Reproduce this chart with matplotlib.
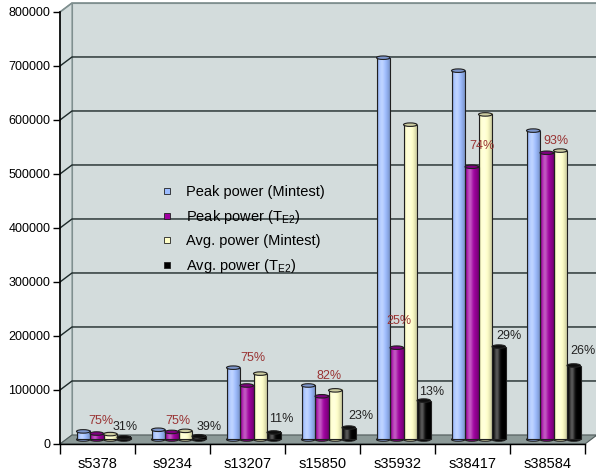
import numpy as np
import matplotlib.pyplot as plt
from matplotlib.patches import Rectangle, Ellipse, Polygon
from matplotlib.lines import Line2D
from matplotlib.colors import to_rgb

plt.rcParams['font.family'] = ['Liberation Sans', 'DejaVu Sans']
plt.rcParams['mathtext.fontset'] = 'custom'
plt.rcParams['mathtext.rm'] = 'Liberation Sans'

circuits = ['s5378', 's9234', 's13207', 's15850', 's35932', 's38417', 's38584']
peak_mintest = [15000, 18000, 133000, 100000, 707000, 683000, 572000]
peak_te2 = [11000, 14000, 100000, 80000, 170000, 505000, 531000]
avg_mintest = [10000, 16000, 122000, 91000, 583000, 602000, 535000]
avg_te2 = [4000, 6000, 13000, 22000, 72000, 172000, 137000]
peak_reduction = ['75%', '75%', '75%', '82%', '25%', '74%', '93%']
avg_reduction = ['31%', '39%', '11%', '23%', '13%', '29%', '26%']

series = [
    ('Peak power (Mintest)', peak_mintest, '#9cbcff'),
    ('Peak power (T$_{\\mathregular{E2}}$)', peak_te2, '#a000a0'),
    ('Avg. power (Mintest)', avg_mintest, '#ffffc8'),
    ('Avg. power (T$_{\\mathregular{E2}}$)', avg_te2, '#000000'),
]

# label nudges in pixels, relative to the top of the bar they belong to
peak_nudge = [(4, 13), (6, 11), (6, 27), (7, 20), (2, 27), (10, 21), (9, 12)]
avg_nudge = [(1, 10), (10, 9), (8, 13), (12, 12), (8, 9), (10, 11), (9, 15)]

W = 0.18          # bar width, category units
DX = 0.16         # depth of the box along x
DY = 16700        # depth of the box along y
CAP = 6500        # height of the cylinder caps
YMAX = 800000
n = len(circuits)

fig = plt.figure(figsize=(5.96, 4.74), dpi=100)
ax = fig.add_axes([60 / 596, 30 / 474, 525 / 596, 432 / 474])
ax.set_facecolor('none')

wall = '#d3dcdc'
edge = '#7f8f8f'
x0, x1 = -0.5, n - 0.5

# side wall, back wall and floor
ax.add_patch(Polygon([(x0, 0), (x0 + DX, DY), (x0 + DX, YMAX + DY), (x0, YMAX)],
                     closed=True, fc=wall, ec=edge, lw=0.8, zorder=0, clip_on=False))
ax.add_patch(Polygon([(x0 + DX, DY), (x1 + DX, DY), (x1 + DX, YMAX + DY), (x0 + DX, YMAX + DY)],
                     closed=True, fc=wall, ec=edge, lw=0.8, zorder=0, clip_on=False))
ax.add_patch(Polygon([(x0, 0), (x1, 0), (x1 + DX, DY), (x0 + DX, DY)],
                     closed=True, fc='#8c9a98', ec='#4f5a5a', lw=0.8, zorder=1, clip_on=False))

for v in range(100000, YMAX, 100000):
    ax.plot([x0, x0 + DX, x1 + DX], [v, v + DY, v + DY], color='#1c2828', lw=1.0,
            zorder=1, clip_on=False, solid_capstyle='butt')
ax.plot([x0, x0 + DX, x1 + DX], [YMAX, YMAX + DY, YMAX + DY], color=edge, lw=1.2,
        zorder=1, clip_on=False)


def shaded(rgb, npx=40):
    t = np.linspace(0, 1, npx)
    light = 0.35 * np.exp(-((t - 0.35) / 0.2) ** 2)
    dark = 0.28 * np.clip((t - 0.55) / 0.45, 0, 1) ** 1.5 + 0.35 * np.clip((0.12 - t) / 0.12, 0, 1)
    c = np.array(rgb)
    col = c[None, :] + (1 - c[None, :]) * light[:, None]
    col = col * (1 - dark[:, None])
    return col[None, :, :]


offsets = [-0.27, -0.09, 0.09, 0.27]
tops = {}
for k, (name, vals, color) in enumerate(series):
    rgb = to_rgb(color)
    img = shaded(rgb)
    cap = tuple(np.array(rgb) * 0.8 + (0.05 if color == '#000000' else 0))
    for i, v in enumerate(vals):
        xc = i + offsets[k] + DX / 2
        b = DY / 2
        ax.add_patch(Ellipse((xc, b), W, CAP, fc=tuple(np.array(rgb) * 0.85), ec='#202020',
                             lw=0.8, zorder=3 + k * 0.01))
        ax.imshow(img, extent=[xc - W / 2, xc + W / 2, b, b + v], aspect='auto',
                  origin='lower', zorder=4 + k * 0.01, interpolation='bilinear')
        ax.add_patch(Rectangle((xc - W / 2, b), W, v, fill=False, ec='#202020', lw=0.8,
                               zorder=4.5 + k * 0.01))
        ax.add_patch(Ellipse((xc, b + v), W, CAP, fc=cap, ec='#202020', lw=0.8,
                             zorder=5 + k * 0.01))
        tops[(k, i)] = (xc, b + v)

for i in range(n):
    xc, yt = tops[(1, i)]
    ax.annotate(peak_reduction[i], (xc, yt), xytext=peak_nudge[i], textcoords='offset pixels',
                ha='center', va='center', fontsize=9, color='#993333', zorder=10)
    xc, yt = tops[(3, i)]
    ax.annotate(avg_reduction[i], (xc, yt), xytext=avg_nudge[i], textcoords='offset pixels',
                ha='center', va='center', fontsize=9, color='#222222', zorder=10)

ax.set_xlim(x0, x1)
ax.set_ylim(0, YMAX)

ax.set_yticks(range(0, YMAX + 1, 100000))
ax.set_yticklabels([str(v) for v in range(0, YMAX + 1, 100000)], fontsize=9)
ax.tick_params(axis='y', length=5, width=1, pad=2)

ax.set_xticks(np.arange(x0, x1 + 0.01, 1))
ax.set_xticklabels([])
ax.tick_params(axis='x', which='major', length=7, width=1)
ax.set_xticks(range(n), minor=True)
ax.set_xticklabels(circuits, minor=True, fontsize=10.5)
ax.tick_params(axis='x', which='minor', length=0, pad=9)

for s in ['top', 'right']:
    ax.spines[s].set_visible(False)
ax.spines['left'].set_linewidth(1.2)
ax.spines['bottom'].set_linewidth(1.0)
ax.spines['left'].set_zorder(6)
ax.spines['bottom'].set_zorder(6)

handles = [Line2D([], [], ls='none', marker='s', markersize=5, mfc=c, mec='#222222', mew=0.6)
           for _, _, c in series]
fig.legend(handles, [s[0] for s in series], loc='upper left',
           bbox_to_anchor=(160 / 596, 1 - 185 / 474), frameon=False, fontsize=10.5,
           handlelength=1.0, handletextpad=0.8, labelspacing=0.6,
           borderpad=0, borderaxespad=0)

fig.savefig('out.png', dpi=100)
